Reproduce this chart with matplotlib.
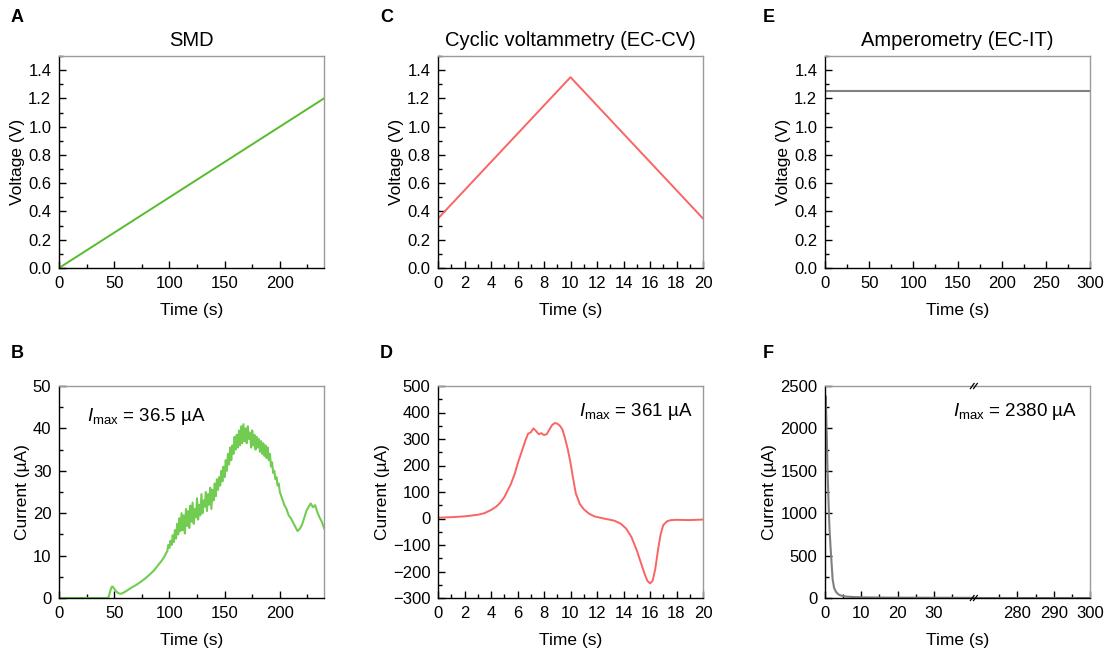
import numpy as np
import matplotlib
matplotlib.use("Agg")
from matplotlib import pyplot as plt
from matplotlib.ticker import MultipleLocator, FixedLocator, FormatStrFormatter

plt.rcParams['font.family'] = ['Liberation Sans', 'DejaVu Sans']
plt.rcParams['mathtext.fontset'] = 'custom'
plt.rcParams['mathtext.rm'] = 'Liberation Sans'
plt.rcParams['mathtext.it'] = 'Liberation Sans:italic'

# ---- data ----
# A: SMD linear sweep
smd_t = [0, 240]
smd_v = [0.0, 1.2]

# B: SMD current (quiet start, noisy middle sampled each second, smooth tail)
smd_it_start = [0, 20, 44, 45, 46, 47, 48, 49, 50, 52, 54, 56, 58, 60, 63, 66, 70, 74, 78, 82, 86, 90, 93, 96, 97]
smd_i_start = [0, 0, 0, 0.3, 1.2, 2.2, 2.7, 2.6, 2.2, 1.5, 1.1, 1.0, 1.2, 1.5, 2.0, 2.5, 3.1, 3.8, 4.6, 5.5,
               6.5, 7.8, 8.8, 10.0, 10.6]
smd_it_noisy = list(range(98, 201))
smd_i_noisy = [11.0, 12.5, 11.8, 13.5, 12.5, 14.8, 13.2, 16.0, 14.0, 17.5,
               15.0, 18.8, 15.8, 20.0, 16.0, 19.5, 15.2, 21.0, 17.0, 20.5,
               16.5, 21.8, 18.0, 22.5, 17.5, 21.0, 19.0, 23.5, 18.5, 22.0,
               19.5, 24.5, 20.0, 23.0, 21.5, 25.0, 20.5, 24.5, 22.0, 26.0,
               21.0, 25.5, 23.0, 27.0, 24.0, 28.0, 25.5, 28.5, 26.5, 30.0,
               27.5, 31.0, 28.5, 32.5, 30.0, 34.0, 31.5, 35.5, 32.5, 36.0,
               34.0, 38.0, 35.0, 38.5, 35.5, 39.5, 36.0, 40.5, 36.5, 41.0,
               37.0, 40.0, 36.5, 40.5, 37.5, 39.0, 35.5, 39.5, 36.0, 38.5,
               35.0, 38.0, 35.5, 37.5, 34.5, 37.0, 34.0, 36.5, 33.5, 36.0,
               33.0, 35.5, 32.5, 34.0, 31.0, 32.0, 29.5, 30.0, 28.0, 28.5,
               26.5, 27.0, 25.0]
smd_it_tail = [202, 204, 206, 208, 210, 212, 214, 216, 218, 220, 222, 224, 226, 228, 230, 232, 234, 236, 238, 240]
smd_i_tail = [23.5, 22.0, 21.0, 19.5, 18.8, 17.8, 16.8, 15.8, 16.3, 17.2, 18.8, 20.5, 21.5, 22.3, 21.4, 21.9,
              20.2, 19.0, 18.0, 16.5]
smd_it = smd_it_start + smd_it_noisy + smd_it_tail
smd_i = smd_i_start + smd_i_noisy + smd_i_tail

# C: cyclic voltammetry potential
cv_t = [0, 10, 20]
cv_v = [0.35, 1.35, 0.35]

# D: CV current
cv_it = [0, 1, 2, 3, 3.5, 4, 4.4, 4.7, 5.0, 5.2, 5.5, 5.8, 6.0, 6.3, 6.6, 6.8, 7.0, 7.2, 7.4, 7.6, 7.8, 8.0,
         8.2, 8.4, 8.6, 8.8, 9.0, 9.2, 9.4, 9.6, 9.8, 10.0, 10.2, 10.4, 10.7, 11.0, 11.4, 11.8, 12.5, 13.3,
         13.8, 14.2, 14.6, 15.0, 15.3, 15.6, 15.8, 16.0, 16.2, 16.4, 16.6, 16.8, 17.0, 17.3, 17.6, 18, 19, 20]
cv_i = [3, 5, 8, 14, 20, 32, 45, 60, 80, 100, 130, 170, 205, 250, 295, 320, 325, 340, 330, 318, 322, 315,
        318, 335, 352, 360, 358, 350, 335, 300, 260, 210, 150, 95, 55, 35, 18, 8, 0, -8,
        -20, -38, -70, -120, -165, -210, -235, -245, -235, -190, -120, -60, -25, -10, -6, -5, -6, -4]

# E: amperometry potential
it_t = [0, 300]
it_v = [1.25, 1.25]

# F: amperometry current (broken time axis)
amp_t = [0, 0.2, 0.5, 0.7, 1.0, 1.2, 1.5, 1.8, 2.1, 2.5, 3.0, 3.5, 4.0, 5.0, 6.0, 8.0, 10, 15, 20, 30, 41]
amp_i = [2200, 2380, 1900, 1500, 1100, 850, 620, 420, 220, 120, 75, 50, 35, 22, 16, 11, 8, 5, 4, 3, 2]
amp_t2 = [268, 300]
amp_i2 = [1, 1]

green_dark = '#58bb2c'
green_light = '#72cc52'
red = '#fa6464'
grey = '#7f7f7f'

BRK_L, BRK_R = 41, 268


def fwd(t):
    t = np.asarray(t, dtype=float)
    return np.where(t <= BRK_L, t, BRK_L + np.clip(t - BRK_R, 0, None))


def inv(u):
    u = np.asarray(u, dtype=float)
    return np.where(u <= BRK_L, u, u - BRK_L + BRK_R)


def style(ax):
    for s in ['top', 'right']:
        ax.spines[s].set_color('#9a9a9a')
    for s in ['left', 'bottom']:
        ax.spines[s].set_color('black')
    for s in ax.spines.values():
        s.set_linewidth(1.0)
    ax.tick_params(which='both', direction='in', top=False, right=False, labelsize=12,
                   colors='black', width=1.0)
    ax.tick_params(which='major', length=5, pad=5.5)
    ax.tick_params(which='minor', length=3)


fig = plt.figure(figsize=(11.05, 6.51), dpi=100)
W, H = 1105, 651


def make_ax(left, top):
    return fig.add_axes([left / W, 1 - (top + 212) / H, 265 / W, 212 / H])


axA = make_ax(59, 56)
axC = make_ax(438, 56)
axE = make_ax(825, 56)
axB = make_ax(59, 386)
axD = make_ax(438, 386)
axF = make_ax(825, 386)

lab_kw = dict(fontsize=12.5)
volt_ticks = [0, 0.2, 0.4, 0.6, 0.8, 1.0, 1.2, 1.4]


def volt_axis(ax):
    ax.set_ylim(0, 1.5)
    ax.yaxis.set_major_locator(FixedLocator(volt_ticks))
    ax.yaxis.set_minor_locator(MultipleLocator(0.1))
    ax.yaxis.set_major_formatter(FormatStrFormatter('%.1f'))
    ax.set_ylabel('Voltage (V)', labelpad=2, **lab_kw)


# A
axA.plot(smd_t, smd_v, color=green_dark, lw=1.4)
axA.set_xlim(0, 240)
axA.xaxis.set_major_locator(MultipleLocator(50))
axA.xaxis.set_minor_locator(MultipleLocator(25))
volt_axis(axA)
axA.set_title('SMD', fontsize=14.5, pad=7)

# C
axC.plot(cv_t, cv_v, color=red, lw=1.4)
axC.set_xlim(0, 20)
axC.xaxis.set_major_locator(MultipleLocator(2))
axC.xaxis.set_minor_locator(MultipleLocator(1))
volt_axis(axC)
axC.set_title('Cyclic voltammetry (EC-CV)', fontsize=14.5, pad=7)

# E
axE.plot(it_t, it_v, color=grey, lw=1.5)
axE.set_xlim(0, 300)
axE.xaxis.set_major_locator(MultipleLocator(50))
axE.xaxis.set_minor_locator(MultipleLocator(25))
volt_axis(axE)
axE.set_title('Amperometry (EC-IT)', fontsize=14.5, pad=7)

# B
axB.plot(smd_it, smd_i, color=green_light, lw=1.5)
axB.set_xlim(0, 240)
axB.set_ylim(0, 50)
axB.xaxis.set_major_locator(MultipleLocator(50))
axB.xaxis.set_minor_locator(MultipleLocator(25))
axB.yaxis.set_major_locator(MultipleLocator(10))
axB.yaxis.set_minor_locator(MultipleLocator(5))
axB.text(0.105, 0.855, r'$\mathit{I}_{\mathrm{max}}$ = 36.5 µA', transform=axB.transAxes,
         fontsize=13.5, va='center', ha='left')

# D
axD.plot(cv_it, cv_i, color=red, lw=1.4)
axD.set_xlim(0, 20)
axD.set_ylim(-300, 500)
axD.xaxis.set_major_locator(MultipleLocator(2))
axD.xaxis.set_minor_locator(MultipleLocator(1))
axD.yaxis.set_major_locator(MultipleLocator(100))
axD.yaxis.set_minor_locator(MultipleLocator(50))
axD.text(0.962, 0.88, r'$\mathit{I}_{\mathrm{max}}$ = 361 µA', transform=axD.transAxes,
         fontsize=13.5, va='center', ha='right')

# F (broken x axis)
axF.set_xscale('function', functions=(fwd, inv))
axF.plot(amp_t, amp_i, color=grey, lw=1.5)
axF.plot(amp_t2, amp_i2, color=grey, lw=1.5)
axF.set_xlim(0, 300)
axF.set_ylim(0, 2500)
axF.xaxis.set_major_locator(FixedLocator([0, 10, 20, 30, 280, 290, 300]))
axF.xaxis.set_minor_locator(FixedLocator([5, 15, 25, 35, 275, 285, 295]))
axF.xaxis.set_major_formatter(FormatStrFormatter('%d'))
axF.yaxis.set_major_locator(MultipleLocator(500))
axF.yaxis.set_minor_locator(MultipleLocator(250))
axF.text(0.951, 0.88, r'$\mathit{I}_{\mathrm{max}}$ = 2380 µA', transform=axF.transAxes,
         fontsize=13.5, va='center', ha='right')
# break marks
bx = fwd(BRK_L) / fwd(300)
for by in (0, 1):
    for dx in (-0.006, 0.006):
        axF.plot([bx + dx - 0.007, bx + dx + 0.007], [by - 0.012, by + 0.012],
                 transform=axF.transAxes, color='black', lw=0.9, clip_on=False, zorder=5)

for ax in (axB, axD, axF):
    ax.set_ylabel('Current (µA)', labelpad=2, **lab_kw)

for ax in (axA, axB, axC, axD, axE, axF):
    ax.set_xlabel('Time (s)', labelpad=9, **lab_kw)
    style(ax)

# panel letters
for letter, (px, py) in zip('ABCDEF', [(11, 18), (11, 354), (380, 18), (380, 354), (763, 18), (763, 354)]):
    fig.text(px / W, 1 - py / H, letter, fontsize=13, fontweight='bold', va='center', ha='left')

fig.savefig('out.png', dpi=100)
